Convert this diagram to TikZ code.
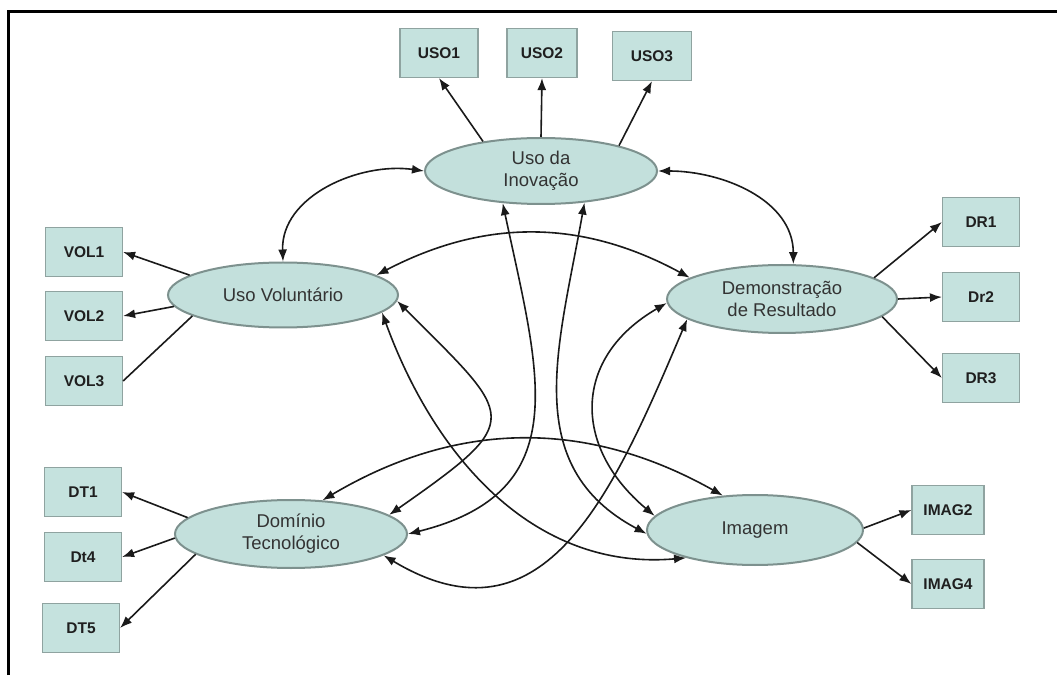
\documentclass[tikz,border=0pt]{standalone}
\usepackage{fontspec}
\setmainfont{Liberation Sans}
\usetikzlibrary{arrows.meta,shapes.geometric}
\definecolor{boxfill}{HTML}{C5E2DE}
\definecolor{boxdraw}{HTML}{8FA3A0}
\definecolor{ellfill}{HTML}{C3E0DC}
\definecolor{elldraw}{HTML}{7D918E}
\definecolor{linec}{HTML}{1A1A1A}
\begin{document}
\begin{tikzpicture}[x=1pt,y=1pt,
 ind/.style={draw=boxdraw, fill=boxfill, line width=1.2pt, minimum width=77pt, minimum height=49pt, inner sep=0pt, font=\fontsize{15.5}{18}\selectfont\bfseries, text=black!88},
 lat/.style={ellipse, draw=elldraw, fill=ellfill, line width=2pt, inner sep=0pt, font=\fontsize{18.5}{22}\selectfont, text=black!80, align=center},
 load/.style={draw=linec, line width=1.6pt, -{Latex[length=12pt,width=9pt]}},
 plain/.style={draw=linec, line width=1.6pt},
 cov/.style={draw=linec, line width=1.6pt, {Latex[length=12pt,width=9pt]}-{Latex[length=12pt,width=9pt]}},
 frame/.style={draw=black, line width=3pt}
]
\useasboundingbox (0,0) rectangle (1057,675);
\fill[white] (0,0) rectangle (1057,675);
\coordinate (fb) at (8,0);
\coordinate (fc) at (8,663);
\coordinate (fr) at (1057,663);
\draw[frame] (fb) -- (fc) -- (fr);

% latent variables
\node[lat, minimum width=232pt, minimum height=66pt] (UI) at (541,504) {Uso da\\Inovação};
\node[lat, minimum width=230pt, minimum height=65pt] (UV) at (283,380) {Uso Voluntário};
\node[lat, minimum width=230pt, minimum height=68pt] (DR) at (782,376) {Demonstração\\de Resultado};
\node[lat, minimum width=232pt, minimum height=68pt] (DT) at (291,141) {Domínio\\Tecnológico};
\node[lat, minimum width=216pt, minimum height=70pt] (IM) at (755,145) {Imagem};

% indicators
\node[ind, minimum width=78pt] (USO1) at (439,622) {USO1};
\node[ind, minimum width=70pt] (USO2) at (542,622) {USO2};
\node[ind, minimum width=79pt] (USO3) at (652,619) {USO3};
\node[ind] (VOL1) at (84,423) {VOL1};
\node[ind] (VOL2) at (84,359) {VOL2};
\node[ind] (VOL3) at (84,294) {VOL3};
\node[ind] (DT1) at (83,183) {DT1};
\node[ind] (DT4) at (83,118) {Dt4};
\node[ind] (DT5) at (81,47) {DT5};
\node[ind] (DR1) at (981,453) {DR1};
\node[ind] (DR2) at (981,378) {Dr2};
\node[ind] (DR3) at (981,297) {DR3};
\node[ind, minimum width=72pt] (IMAG2) at (948,165) {IMAG2};
\node[ind, minimum width=72pt] (IMAG4) at (948,91) {IMAG4};

% loadings
\draw[load] (UI.153) -- (USO1.south);
\draw[load] (UI.90) -- (USO2.south);
\draw[load] (UI.18) -- (USO3.south);
\draw[load] (UV.168) -- (VOL1.east);
\draw[load] (UV.186) -- (VOL2.east);
\draw[plain] (UV.193) -- (VOL3.east);
\draw[load] (DR.13) -- (DR1.west);
\draw[load] (DR.0) -- (DR2.west);
\draw[load] (DR.-10) -- (DR3.west);
\draw[load] (DT.171) -- (DT1.east);
\draw[load] (DT.182) -- (DT4.east);
\draw[load] (DT.192) -- (DT5.east);
\draw[load] (IM.1) -- (IMAG2.west);
\draw[load] (IM.-7) -- (IMAG4.west);

% correlations
\draw[cov] (UV.90) to[out=92,in=172] (UI.180);
\draw[cov] (UI.0) to[out=0,in=90] (DR.72);
\draw[cov] (UV.12) to[bend left=28] (DR.167);
\draw[cov] (UV.-3) to[out=-45,in=35,looseness=2] (DT.11);
\draw[cov] (UV.-10) to[out=-70,in=185] (IM.202);
\draw[cov] (DT.47) to[bend left=30] (IM.133);
\draw[cov] (UI.220) to[out=-78,in=14,looseness=1.3] (DT.0);
\draw[cov] (UI.-36) to[out=-100,in=152,looseness=1.1] (IM.182);
\draw[cov] (DR.182) to[out=210,in=140,looseness=1.3] (IM.172);
\draw[cov] (DR.192) to[out=247,in=-31,looseness=1.25] (DT.-13);
\end{tikzpicture}
\end{document}
